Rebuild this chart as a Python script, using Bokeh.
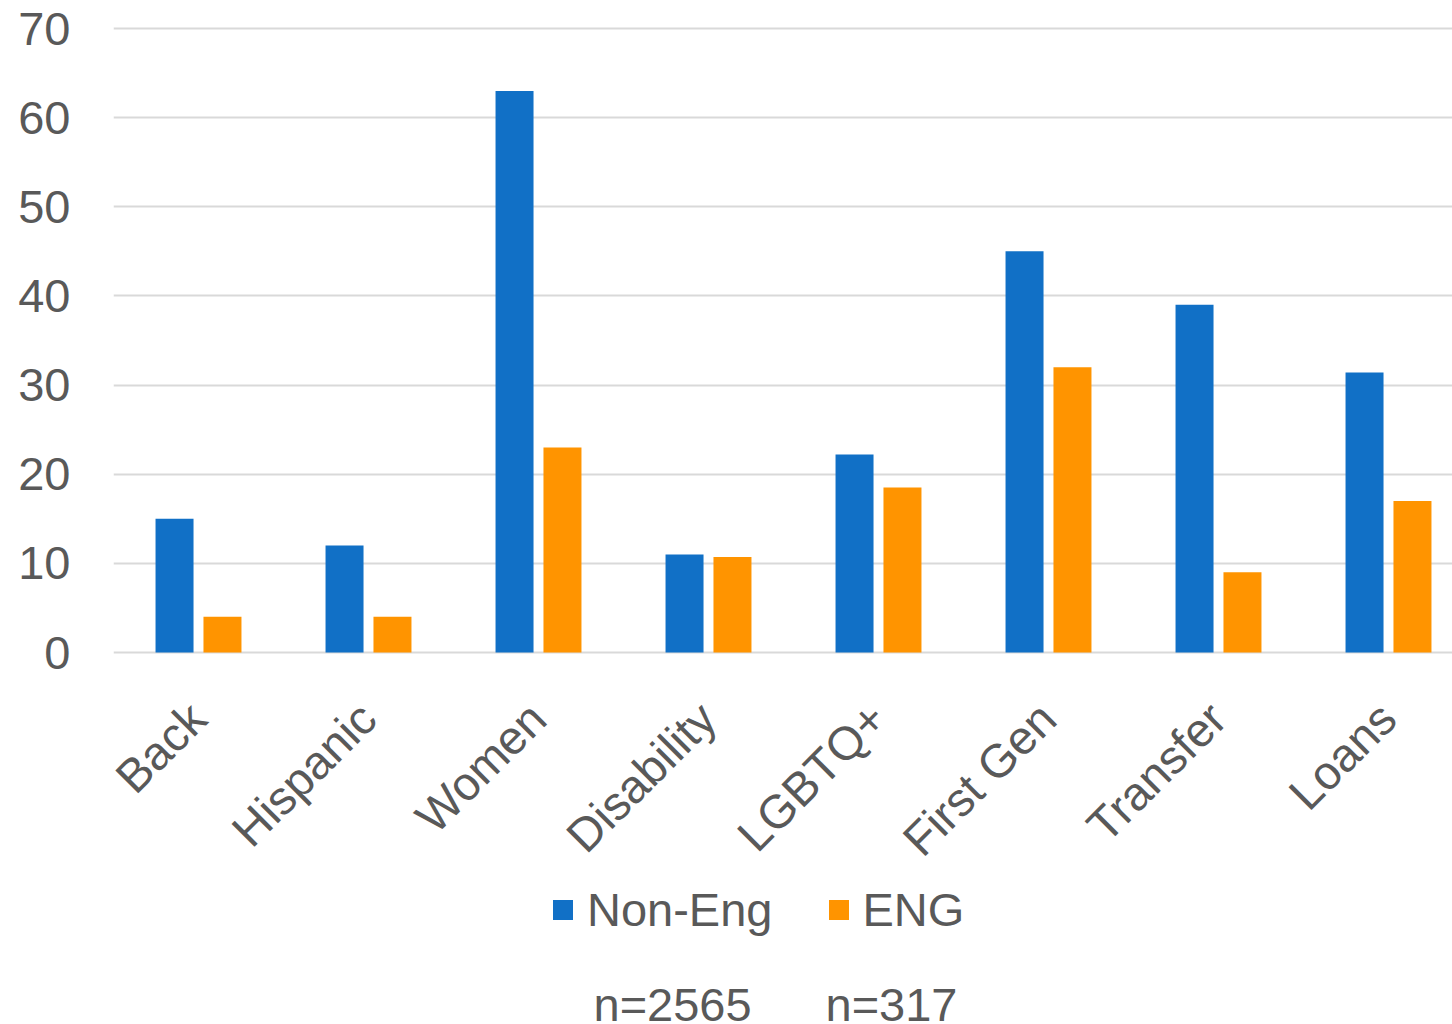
import math
from bokeh.plotting import figure
from bokeh.models import Range1d, FixedTicker, Legend, LegendItem, Label, ColumnDataSource
from bokeh.embed import file_html
from bokeh.resources import INLINE

categories = ["Back", "Hispanic", "Women", "Disability", "LGBTQ+", "First Gen", "Transfer", "Loans"]
non_eng = [15, 12, 63, 11, 22.2, 45, 39, 31.4]
eng = [4, 4, 23, 10.7, 18.5, 32, 9, 17]
series_names = ["Non-Eng", "ENG"]
sample_sizes = ["n=2565", "n=317"]
y_ticks = [0, 10, 20, 30, 40, 50, 60, 70]

BLUE = "#1170C6"
ORANGE = "#FF9400"
TEXT = "#595959"
GRID = "#D9D9D9"
FONT = "Liberation Sans"

# layout geometry (pixels)
TOP, PLOT_H, BELOW_H, LEFT, FRAME_W, CAT_W = 26, 626, 372, 113, 1339, 170
ppu = 624 / 70.0  # pixels per y unit

centers = [i + 0.5 for i in range(len(categories))]
src = ColumnDataSource(dict(
    xb=[c - 0.141 for c in centers],
    xo=[c + 0.141 for c in centers],
    non_eng=non_eng,
    eng=eng,
))
lab_src = ColumnDataSource(dict(
    x=[c - 0.005 for c in centers],
    y=[-58 / ppu] * len(categories),
    text=categories,
))

p = figure(frame_width=FRAME_W, frame_height=PLOT_H + BELOW_H,
           min_border_left=LEFT, min_border_top=TOP, min_border_right=0, min_border_bottom=0,
           x_range=Range1d(0, FRAME_W / CAT_W),
           y_range=Range1d(-BELOW_H / ppu, 70 + (PLOT_H - 624) / ppu),
           x_axis_location=None,
           output_backend="svg", toolbar_location=None)
p.outline_line_color = None
p.background_fill_color = "white"
p.border_fill_color = "white"

rb = p.vbar(x="xb", top="non_eng", width=0.2235, bottom=0, source=src,
            fill_color=BLUE, line_color=None)
ro = p.vbar(x="xo", top="eng", width=0.2235, bottom=0, source=src,
            fill_color=ORANGE, line_color=None)

# category labels (rotated 45 degrees)
p.text(x="x", y="y", text="text", source=lab_src, angle=math.pi / 4,
       text_align="right", text_baseline="middle",
       text_font={"value": FONT}, text_font_size="47px", text_color=TEXT)

# Y axis
p.yaxis.ticker = FixedTicker(ticks=y_ticks)
p.yaxis.axis_line_color = None
p.yaxis.major_tick_line_color = None
p.yaxis.minor_tick_line_color = None
p.yaxis.major_label_standoff = 37
p.yaxis.major_label_text_font = FONT
p.yaxis.major_label_text_font_size = "47px"
p.yaxis.major_label_text_color = TEXT

p.xgrid.grid_line_color = None
p.ygrid.ticker = FixedTicker(ticks=y_ticks)
p.ygrid.grid_line_color = GRID
p.ygrid.grid_line_width = 2

legend = Legend(items=[LegendItem(label=series_names[0], renderers=[rb]),
                       LegendItem(label=series_names[1], renderers=[ro])],
                orientation="horizontal", location=(437, 87),
                glyph_width=25, glyph_height=25, label_standoff=12, spacing=53,
                padding=0, margin=0, border_line_color=None, background_fill_alpha=0,
                label_text_font=FONT, label_text_font_size="47px", label_text_color=TEXT)
p.add_layout(legend)

p.add_layout(Label(x=480, y=20, x_units="screen", y_units="screen", text=sample_sizes[0],
                   text_font=FONT, text_font_size="47px", text_color=TEXT,
                   text_baseline="alphabetic"))
p.add_layout(Label(x=712, y=20, x_units="screen", y_units="screen", text=sample_sizes[1],
                   text_font=FONT, text_font_size="47px", text_color=TEXT,
                   text_baseline="alphabetic"))

open("out.html", "w").write(file_html(p, INLINE))
